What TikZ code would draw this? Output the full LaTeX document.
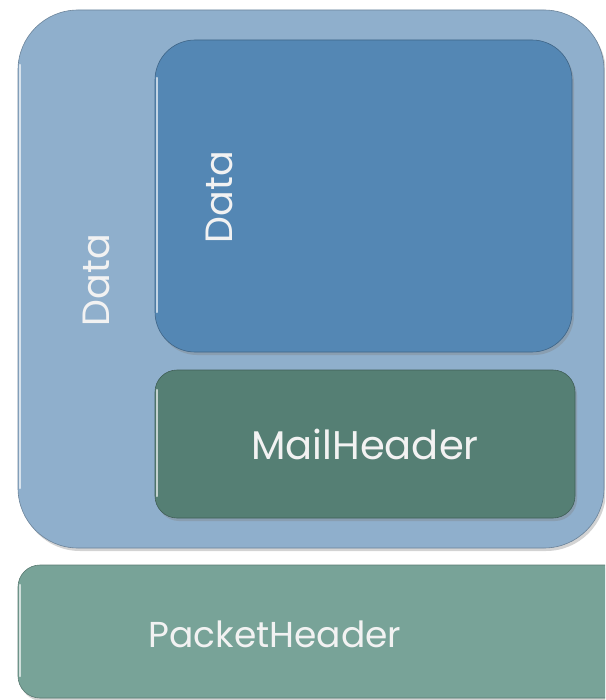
\documentclass[tikz,border=0pt]{standalone}
\usepackage{fontspec}
\setmainfont{Poppins}
\usetikzlibrary{shadows}

\definecolor{outerblue}{HTML}{8FAFCC}
\definecolor{innerblue}{HTML}{5487B4}
\definecolor{mailgreen}{HTML}{557F74}
\definecolor{packetgreen}{HTML}{78A398}
\definecolor{labelwhite}{HTML}{F2F2F2}

\begin{document}
\begin{tikzpicture}[x=1pt,y=-1pt,
  box/.style={draw=#1!75!black,fill=#1,line width=0.6pt,
    drop shadow={shadow xshift=2pt,shadow yshift=-3pt,opacity=0.35}},
  shine/.style={draw=#1!35!white,line width=1.6pt,line cap=round},
  boxtext/.style={text=labelwhite,font=\fontsize{#1}{#1}\selectfont},
  boxtext/.default=38]
\useasboundingbox (0,0) rectangle (605,700);
\clip (0,0) rectangle (605,700);
% outer message with nested data and mail header
\node[box=outerblue,rounded corners=60pt,minimum width=586pt,minimum height=538pt] (outer) at (311,279) {};
\draw[shine=outerblue] ([xshift=2.5pt,yshift=-55pt]outer.north west) -- ([xshift=2.5pt,yshift=60pt]outer.south west);
\node[box=innerblue,rounded corners=40pt,minimum width=417pt,minimum height=312pt] (data) at (363.5,196) {};
\draw[shine=innerblue] ([xshift=2.5pt,yshift=-38pt]data.north west) -- ([xshift=2.5pt,yshift=40pt]data.south west);
\node[box=mailgreen,rounded corners=22pt,minimum width=420pt,minimum height=148pt] (mail) at (365,444) {};
\draw[shine=mailgreen] ([xshift=2.5pt,yshift=-20pt]mail.north west) -- ([xshift=2.5pt,yshift=22pt]mail.south west);
\node[boxtext=40] (maillabel) at (mail) {MailHeader};
% packet header below
\node[box=packetgreen,rounded corners=22pt,minimum width=622pt,minimum height=133pt] (packet) at (329,631.5) {};
\draw[shine=packetgreen] ([xshift=2.5pt,yshift=-20pt]packet.north west) -- ([xshift=2.5pt,yshift=22pt]packet.south west);
\node[boxtext=36] (packetlabel) at (275,634) {PacketHeader};
% rotated labels
\node[boxtext,rotate=90] (outerlabel) at (96,280) {Data};
\node[boxtext,rotate=90] (datalabel) at (219,197) {Data};
\end{tikzpicture}
\end{document}
